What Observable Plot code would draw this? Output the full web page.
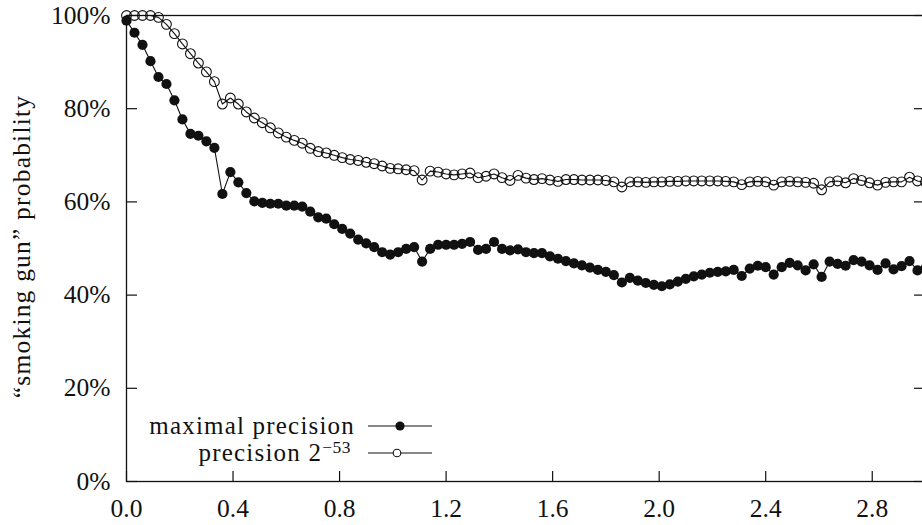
<!DOCTYPE html>
<html><head><meta charset="utf-8">
<script src="https://cdn.jsdelivr.net/npm/d3@7"></script>
<script src="https://cdn.jsdelivr.net/npm/@observablehq/plot@0.6"></script>
<style>
html,body{margin:0;padding:0;background:#fff;}
#chart{width:922px;height:525px;overflow:hidden;position:relative;}
#chart svg{overflow:hidden;}
</style></head><body><div id="chart"></div>
<script>
const xValues = [0.00,0.03,0.06,0.09,0.12,0.15,0.18,0.21,0.24,0.27,0.30,0.33,0.36,0.39,0.42,0.45,0.48,0.51,0.54,0.57,
0.60,0.63,0.66,0.69,0.72,0.75,0.78,0.81,0.84,0.87,0.90,0.93,0.96,0.99,1.02,1.05,1.08,1.11,1.14,1.17,
1.20,1.23,1.26,1.29,1.32,1.35,1.38,1.41,1.44,1.47,1.50,1.53,1.56,1.59,1.62,1.65,1.68,1.71,1.74,1.77,
1.80,1.83,1.86,1.89,1.92,1.95,1.98,2.01,2.04,2.07,2.10,2.13,2.16,2.19,2.22,2.25,2.28,2.31,2.34,2.37,
2.40,2.43,2.46,2.49,2.52,2.55,2.58,2.61,2.64,2.67,2.70,2.73,2.76,2.79,2.82,2.85,2.88,2.91,2.94,2.97,3.00];

const maximalPrecision = [98.9,96.3,93.7,90.2,86.8,85.3,81.8,77.7,74.6,74.2,
73.0,71.6,61.7,66.4,64.2,61.9,60.1,59.8,59.6,59.6,
59.2,59.2,59.0,57.9,56.7,56.4,55.2,54.2,53.2,51.9,
51.1,50.3,49.2,48.7,49.2,49.9,50.3,47.2,49.9,50.8,
50.8,50.8,51.0,51.4,49.7,49.9,51.4,49.9,49.6,49.8,
49.2,49.0,49.0,48.3,47.8,47.3,46.8,46.4,45.9,45.4,
45.0,44.3,42.7,43.7,43.1,42.6,42.2,41.9,42.3,42.9,
43.5,44.0,44.4,44.8,45.0,45.1,45.4,44.1,45.7,46.3,
46.0,44.4,46.0,46.9,46.4,45.3,46.6,43.9,47.2,46.7,
46.3,47.5,47.2,46.4,45.4,46.8,45.5,46.2,47.3,45.3,45.8];

const precision53 = [100,100,100,100,99.6,98.1,96.1,93.9,91.8,89.8,
87.9,85.8,81.0,82.3,81.0,79.3,78.0,77.0,75.9,74.8,
73.9,73.2,72.6,71.5,70.8,70.5,70.0,69.5,69.1,68.9,
68.5,68.2,67.7,67.2,67.1,66.9,66.7,64.7,66.6,66.4,
66.0,65.8,66.0,66.2,65.2,65.5,66.0,65.2,64.6,65.7,
65.1,64.8,65.0,64.7,64.4,64.8,64.8,64.7,64.7,64.7,
64.6,64.3,63.2,64.3,64.3,64.2,64.3,64.3,64.4,64.4,
64.5,64.5,64.5,64.5,64.5,64.4,64.3,63.7,64.3,64.4,
64.3,63.6,64.3,64.4,64.3,64.2,64.0,62.6,64.3,64.5,
64.1,65.0,64.6,64.1,63.6,64.2,64.3,64.3,65.3,64.5,64.2];

const xTicks = [0.0,0.4,0.8,1.2,1.6,2.0,2.4,2.8];
const yTicks = [0,20,40,60,80,100];
const yLabel = ["\u201Csmoking gun\u201D probability"];
const legendNames = ["maximal precision", "precision 2"];
const legendExponent = "\u221253";

const W = 922, H = 525;
const mL = 126, mR = -3, mT = 15, mB = 44;
const plotW = W - mL - mR, plotH = H - mT - mB;
const ink = "#111";
const tickLen = 11;
const font = "'Liberation Serif', 'Times New Roman', serif";

const rowsMax = xValues.map((x, i) => ({x, y: maximalPrecision[i]}));
const rows53 = xValues.map((x, i) => ({x, y: precision53[i]}));

const chart = Plot.plot({
  width: W, height: H,
  marginLeft: mL, marginRight: mR, marginTop: mT, marginBottom: mB,
  style: {fontFamily: font, fontSize: "25.5px", color: ink, background: "#fff"},
  x: {domain: [0, 3], axis: null},
  y: {domain: [0, 100], axis: null},
  marks: [
    Plot.tickY(yTicks, {y: d => d, insetRight: plotW - tickLen, stroke: ink, strokeWidth: 1.2}),
    Plot.tickY(yTicks, {y: d => d, insetLeft: plotW - tickLen, stroke: ink, strokeWidth: 1.2}),
    Plot.tickX(xTicks, {x: d => d, insetTop: plotH - 10, stroke: ink, strokeWidth: 1.2}),
    Plot.axisY(yTicks, {tickSize: 0, tickPadding: 16, tickFormat: d => d + "%", label: null, fontSize: 25.5}),
    Plot.axisX(xTicks, {tickSize: 0, tickPadding: 17, tickFormat: d3.format(".1f"), label: null, fontSize: 25.5}),
    Plot.text(yLabel, {frameAnchor: "left", textAnchor: "middle", lineAnchor: "middle", rotate: -90, dx: -105, dy: -2, text: d => d, fontSize: 25.5, fill: ink}),
    Plot.frame({stroke: ink, strokeWidth: 1.3}),
    Plot.line(rows53, {x: "x", y: "y", stroke: ink, strokeWidth: 1.1}),
    Plot.dot(rows53, {x: "x", y: "y", r: 4.9, stroke: ink, strokeWidth: 1.1, fill: "none"}),
    Plot.line(rowsMax, {x: "x", y: "y", stroke: ink, strokeWidth: 1.1}),
    Plot.dot(rowsMax, {x: "x", y: "y", r: 5.1, fill: ink, stroke: "none"})
  ]
});

document.getElementById("chart").appendChild(chart);

d3.select(chart).selectAll("text").filter(function(){ return this.textContent === yLabel[0]; }).style("letter-spacing", "1.2px");

// legend (key), placed inside the frame at bottom-left
const svg = d3.select(chart);
const key = svg.append("g").attr("font-family", font).attr("font-size", 25).attr("fill", ink);
const rowsY = [426, 453];
const textEnd = [355, 351];
const lineX1 = 368, lineX2 = 432, markX = 400;
legendNames.forEach((name, i) => {
  const t = key.append("text").attr("x", textEnd[i]).attr("y", rowsY[i]).attr("dy", "0.3em")
    .attr("text-anchor", "end").style("letter-spacing", "1.2px");
  t.append("tspan").text(name);
  if (i === 1) {
    t.append("tspan").attr("dy", "-0.45em").attr("font-size", 17.5).style("letter-spacing", "0.5px").text(legendExponent);
  }
  key.append("line").attr("x1", lineX1).attr("x2", lineX2).attr("y1", rowsY[i]).attr("y2", rowsY[i])
    .attr("stroke", ink).attr("stroke-width", 1.2);
  if (i === 0) key.append("circle").attr("cx", markX).attr("cy", rowsY[i]).attr("r", 4.6).attr("fill", ink);
  else key.append("circle").attr("cx", markX - 3).attr("cy", rowsY[i]).attr("r", 3.8).attr("fill", "#fff").attr("stroke", ink).attr("stroke-width", 1.1);
});
</script>
</body></html>
